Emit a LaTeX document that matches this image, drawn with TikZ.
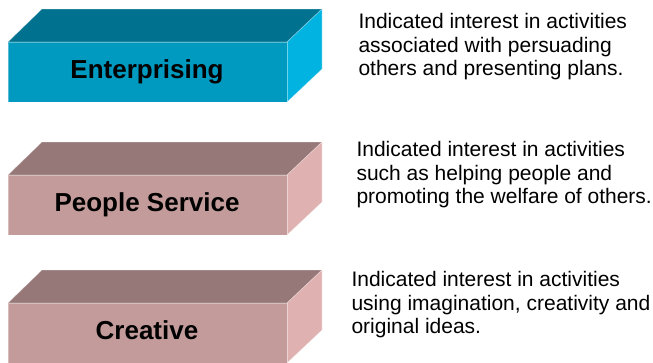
\documentclass[tikz,border=0pt]{standalone}
\usepackage{fontspec}
\setmainfont{Liberation Sans}
\usetikzlibrary{positioning}

\definecolor{entfront}{HTML}{0099BF}
\definecolor{enttop}{HTML}{00728F}
\definecolor{entside}{HTML}{00B3E0}
\definecolor{pplfront}{HTML}{C49B9B}
\definecolor{ppltop}{HTML}{967878}
\definecolor{pplside}{HTML}{E0B1B1}

\begin{document}
\begin{tikzpicture}[
            x=1pt, y=-1pt,
            boxlabel/.style={anchor=base, font=\fontsize{26}{30}\selectfont\bfseries},
            desc/.style={anchor=base west, align=left, font=\fontsize{21}{23.5}\selectfont},
            rim/.style={draw=white, draw opacity=0.35, line width=0.6pt}
        ]
        \useasboundingbox (0,0) rectangle (653,362);

        % three blocks: top face, side face, front face, label
        \foreach \name/\yt/\lbl/\cf/\ct/\cs in {ent/42/Enterprising/entfront/enttop/entside,
                                                ppl/175/People Service/pplfront/ppltop/pplside,
                                                cre/303/Creative/pplfront/ppltop/pplside}{
            \filldraw[fill=\ct, rim] (8,\yt) -- (42,\yt-33) -- (322,\yt-33) -- (287,\yt) -- cycle;
            \filldraw[fill=\cs, rim] (287,\yt) -- (322,\yt-33) -- (322,\yt+27) -- (287,\yt+60) -- cycle;
            \filldraw[fill=\cf, rim] (8,\yt) rectangle (287,\yt+60);
            \node[boxlabel] (\name) at (147,\yt+36.5) {\lbl};
        }

        % base of a multi-line node is its last line
        \node[desc] (entdesc) at (355,75.5) {Indicated interest in activities\\associated with persuading\\others and presenting plans.};
        \node[desc] (ppldesc) at (353,203.5) {Indicated interest in activities\\such as helping people and\\promoting the welfare of others.};
        \node[desc] (credesc) at (348,333.5) {Indicated interest in activities\\using imagination, creativity and\\original ideas.};
        \end{tikzpicture}
\end{document}
